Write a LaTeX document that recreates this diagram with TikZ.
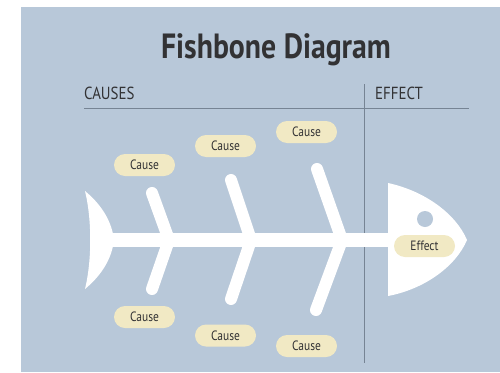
\documentclass[tikz,border=0pt]{standalone}
\usepackage{fontspec}
\setmainfont{PT Sans}[FakeStretch=0.85]
\usetikzlibrary{positioning}
\definecolor{bgblue}{RGB}{184,200,217}
\definecolor{pillcream}{RGB}{241,233,196}
\definecolor{inkgray}{RGB}{50,50,52}
\definecolor{rulegray}{RGB}{118,132,148}

\begin{document}
\begin{tikzpicture}[
      x=1pt, y=-1pt,
      cause/.style={rectangle, rounded corners=11pt, fill=pillcream, text=inkgray, inner sep=0pt,
        minimum width=61pt, minimum height=22pt, font=\fontsize{13.5}{15}\selectfont},
      heading/.style={anchor=base west, inner sep=0pt, text=inkgray, font=\fontsize{17.5}{21}\selectfont},
      bone/.style={draw=white, line width=12pt, line cap=round},
      divider/.style={draw=rulegray, line width=1pt}
    ]
    \useasboundingbox (0,0) rectangle (500,372);
    \fill[bgblue] (21,7) rectangle (500,372);
    \node[anchor=base, inner sep=0pt, text=inkgray, font=\bfseries\fontsize{35}{40}\selectfont] (title) at (276,58) {Fishbone Diagram};
    \node[heading] (causes) at (84,99) {CAUSES};
    \node[heading] (effect) at (375,99) {EFFECT};
    \coordinate (ruleL) at (84,108);
    \coordinate (ruleR) at (469,108);
    \coordinate (splitT) at (364,84);
    \coordinate (splitB) at (364,363);
    \draw[divider] (ruleL) -- (ruleR);
    \draw[divider] (splitT) -- (splitB);
    % fish
    \fill[white] (85,191) .. controls (102,205) and (112,222) .. (114,240)
      .. controls (112,258) and (102,275) .. (85,289)
      .. controls (92,260) and (92,220) .. (85,191) -- cycle;
    \fill[white] (388,183) .. controls (425,191) and (456,214) .. (467,240)
      .. controls (456,266) and (425,289) .. (388,296) -- cycle;
    \coordinate (tail) at (105,240);
    \coordinate (head) at (392,240);
    \draw[draw=white, line width=14pt] (tail) -- (head);
    \coordinate (b1t) at (152,193); \coordinate (b1a) at (169,240); \coordinate (b1b) at (152,289);
    \coordinate (b2t) at (231,180); \coordinate (b2a) at (251,240); \coordinate (b2b) at (231,299);
    \coordinate (b3t) at (317,169); \coordinate (b3a) at (342,240); \coordinate (b3b) at (316,310);
    \draw[bone] (b1t) -- (b1a); \draw[bone] (b1a) -- (b1b);
    \draw[bone] (b2t) -- (b2a); \draw[bone] (b2a) -- (b2b);
    \draw[bone] (b3t) -- (b3a); \draw[bone] (b3a) -- (b3b);
    \fill[bgblue] (425,219) circle (8pt);
    \node[cause] (c1) at (144.5,165) {Cause};
    \node[cause] (c2) at (225.5,146) {Cause};
    \node[cause] (c3) at (306.5,132) {Cause};
    \node[cause] (c4) at (144.5,317) {Cause};
    \node[cause] (c5) at (225.5,335.5) {Cause};
    \node[cause] (c6) at (306.5,346) {Cause};
    \node[cause] (eff) at (424.5,246) {Effect};
  \end{tikzpicture}
\end{document}
